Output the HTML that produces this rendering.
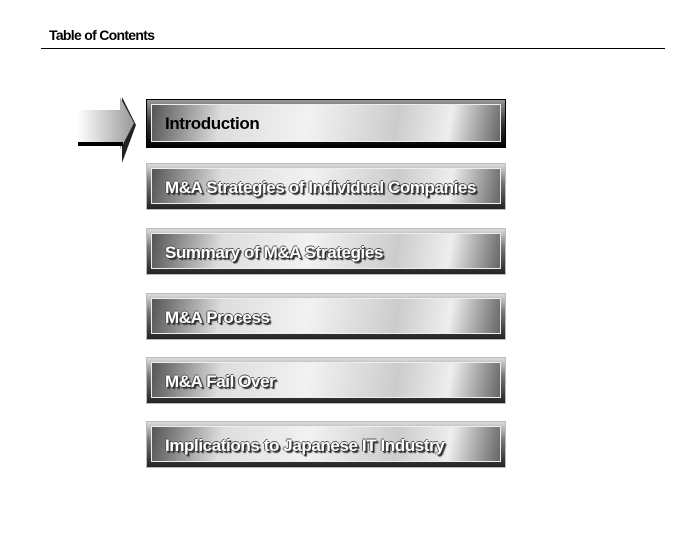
<!DOCTYPE html>
<html><head><style>
body{margin:0;width:700px;height:560px;background:#fff;position:relative;overflow:hidden;font-family:"Liberation Sans",Arial,sans-serif}
.t{position:absolute;left:49px;top:27px;font-size:14px;font-weight:bold;letter-spacing:-0.7px}
.hr{position:absolute;left:41px;top:48px;width:624px;height:1px;background:#000}
.b{position:absolute;left:146px;width:360px;height:47px;box-sizing:border-box;border:1px solid #bbb;
background:linear-gradient(180deg,#ddd 0%,#777 40%,#222 100%);}
.b .in{position:absolute;left:4px;top:4px;right:4px;bottom:5px;border:1px solid #eee;
background:linear-gradient(100deg,#555 0%,#ddd 20%,#f2f2f2 45%,#ccc 70%,#eee 85%,#666 100%);}
.b span{position:absolute;left:13px;top:9px;font-size:17px;font-weight:bold;letter-spacing:-0.4px;color:#fff;white-space:nowrap;
text-shadow:1px 1px 0 #333,-1px 0 0 #555,0 -1px 0 #555,2px 2px 1px #333}
.b.a{border:1px solid #000;background:linear-gradient(180deg,#999 0%,#333 50%,#000 100%)}
.b.a span{color:#000;text-shadow:none}
</style></head><body>
<div class="t">Table of Contents</div>
<div class="hr"></div>
<svg style="position:absolute;left:0;top:0" width="700" height="560">
<defs><linearGradient id="g" x1="0" x2="1"><stop offset="0" stop-color="#fff"/><stop offset="1" stop-color="#999"/></linearGradient></defs>
<polygon points="122,104 122,97 136,125 122,163 122,150" fill="#222"/>
<polygon points="78,110 120,110 120,97 134,123 120,150 120,142 78,142" fill="url(#g)"/>
<rect x="78" y="142" width="45" height="4" fill="#000"/>
</svg>
<div class="b a" style="top:99px;height:49px"><div class="in"><span>Introduction</span></div></div>
<div class="b" style="top:163px"><div class="in"><span>M&amp;A Strategies of Individual Companies</span></div></div>
<div class="b" style="top:228px"><div class="in"><span>Summary of M&amp;A Strategies</span></div></div>
<div class="b" style="top:293px"><div class="in"><span>M&amp;A Process</span></div></div>
<div class="b" style="top:357px"><div class="in"><span>M&amp;A Fail Over</span></div></div>
<div class="b" style="top:421px"><div class="in"><span>Implications to Japanese IT Industry</span></div></div>
</body></html>
